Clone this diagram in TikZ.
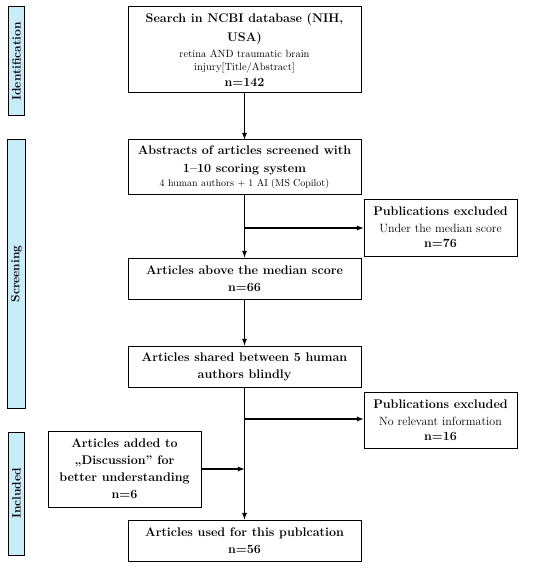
\documentclass[tikz,border=0pt]{standalone}
\usepackage{fontspec}
\usetikzlibrary{positioning,shapes,arrows}

\definecolor{phaseblue}{RGB}{200,236,250}

\newcommand{\hd}{\bfseries\fontsize{12.5}{13}\selectfont}
\newcommand{\sm}{\mdseries\fontsize{10.5}{13}\selectfont}

\begin{document}
\begin{tikzpicture}[x=1pt,y=-1pt,
  		box/.style={rectangle,draw,line width=1pt,fill=white,align=center,inner sep=2pt,minimum width=233pt},
  		sidebox/.style={rectangle,draw,line width=1pt,fill=white,align=center,inner sep=2pt,minimum width=153pt},
  		phase/.style={rectangle,draw,line width=1pt,fill=phaseblue,minimum width=23pt,rotate=90,
    		font=\fontsize{12}{14}\selectfont\bfseries},
  		head/.style={font=\fontsize{12.5}{17}\selectfont\bfseries},
  		flow/.style={->,>=latex,line width=1.3pt}]
    		\useasboundingbox (0,0) rectangle (550,569);
    		% Phases
      		\node[phase,minimum width=109pt] (ident) at (16.5,61.5) {Identification};
      		\node[phase,minimum width=268pt] (screen) at (16.5,274) {Screening};
      		\node[phase,minimum width=123pt] (incl) at (16.5,493.5) {Included};
    		% Main column
      		\node[box,minimum height=86pt,font=\fontsize{12.5}{13}\selectfont] (search) at (244.5,50)
        		{\hd Search in NCBI database (NIH,\\[6pt]
        		\hd USA)\\[3pt]
        		\sm retina AND traumatic brain\\
        		\sm injury[Title/Abstract]\\[3pt]
        		\hd n=142};
      		\node[box,minimum height=55pt,font=\fontsize{12.5}{14}\selectfont] (abstracts) at (244.5,167.5)
        		{\hd Abstracts of articles screened with\\[4pt]
        		\hd 1--10 scoring system\\
        		\mdseries\fontsize{10}{12}\selectfont 4 human authors + 1 AI (MS Copilot)};
      		\node[box,head,minimum height=41pt] (above) at (244.5,278.5)
        		{Articles above the median score\\ n=66};
      		\node[box,head,minimum height=41pt] (shared) at (244.5,366.5)
        		{Articles shared between 5 human\\ authors blindly};
      		\node[box,head,minimum height=41pt] (used) at (244.5,540.5)
        		{Articles used for this publcation\\ n=56};
    		% Side boxes
      		\node[sidebox,minimum height=57pt,font=\fontsize{12.5}{15}\selectfont] (excla) at (440.5,227.5)
        		{\hd Publications excluded\\[2pt]
        		\mdseries\fontsize{12}{15}\selectfont Under the median score\\
        		\hd n=76};
      		\node[sidebox,minimum height=56pt,font=\fontsize{12.5}{15}\selectfont] (exclb) at (440.5,420)
        		{\hd Publications excluded\\[2pt]
        		\mdseries\fontsize{12}{15}\selectfont No relevant information\\
        		\hd n=16};
      		\node[sidebox,head,minimum height=76pt] (added) at (124.5,469)
        		{Articles added to\\ „Discussion” for\\ better understanding\\ n=6};
    		% Junctions
      		\coordinate (splita) at (244.5,228);
      		\coordinate (splitb) at (244.5,419);
      		\coordinate (join) at (244.5,469);
    		% Connectors
      		\draw[flow] (search) -- (abstracts);
      		\draw[flow] (abstracts) -- (above);
      		\draw[flow] (splita) -- (excla.west |- splita);
      		\draw[flow] (above) -- (shared);
      		\draw[flow] (shared) -- (used);
      		\draw[flow] (splitb) -- (exclb.west |- splitb);
      		\draw[flow] (added) -- (join);
	\end{tikzpicture}
\end{document}
